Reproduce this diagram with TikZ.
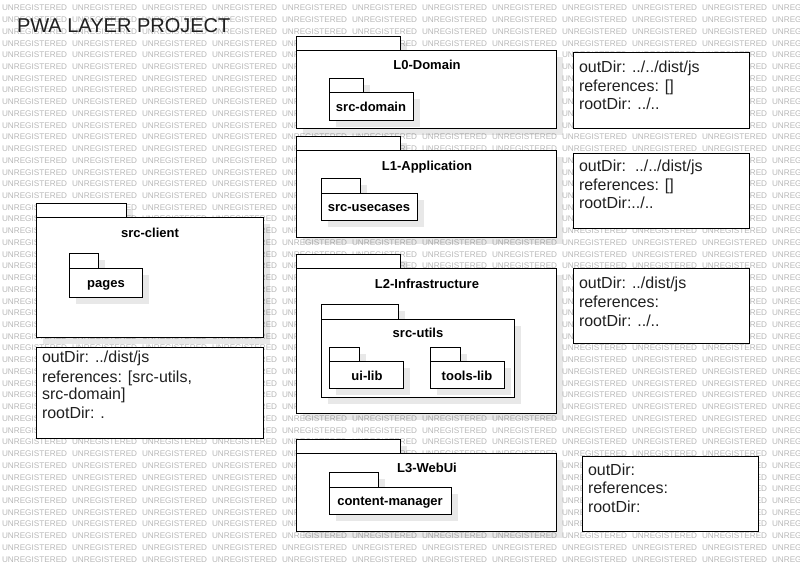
\documentclass[tikz,border=0pt]{standalone}
\usepackage{fontspec}
\setmainfont{Liberation Sans}
\usepackage{tikz}

\begin{document}
\begin{tikzpicture}[x=1pt,y=-1pt,line cap=rect,
    pkgbox/.style={line width=1.0pt, draw=custcol_0_0_0, fill=custcol_ff_ff_ff},
    pkgshadow/.style={fill=custcol_0_0_0, fill opacity=0.09},
    notebox/.style={line width=1.0pt, draw=custcol_0_0_0, fill=custcol_ff_ff_ff},
    pkgname/.style={inner sep=0, outer sep=0, custcol_0_0_0, anchor=base, font=\fontsize{13pt}{13pt}\bfseries\selectfont},
    noteline/.style={inner sep=0, outer sep=0, custcol_20_20_20, anchor=base west, font=\fontsize{16pt}{16pt}\selectfont},
    watermark/.style={inner sep=0, outer sep=0, custcol_b9_b9_b9, anchor=west, font=\fontsize{8.2pt}{8.2pt}\selectfont}]
					\definecolor{custcol_0_0_0}{RGB}{0, 0, 0}
					\definecolor{custcol_20_20_20}{RGB}{32, 32, 32}
					\definecolor{custcol_b9_b9_b9}{RGB}{185, 185, 185}
					\definecolor{custcol_ff_ff_ff}{RGB}{255, 255, 255}
					% package: left, tab top, tab right, body top, right, bottom
					\def\umlpkg#1#2#3#4#5#6{%
						\fill [pkgshadow]  (#1+7,#2+7) rectangle (#3+7,#4+7) ;
						\fill [pkgshadow]  (#1+7,#4+7) rectangle (#5+7,#6+7) ;
						\draw [pkgbox]  (#1,#2) rectangle (#3,#4) ;
						\draw [pkgbox]  (#1,#4) rectangle (#5,#6) ;}
					\useasboundingbox (0,0) rectangle (800,573);
					\fill [custcol_ff_ff_ff]  (0,0) rectangle (800,573) ;
					% watermark
					\begin{scope}
					\clip (0,0) rectangle (800,573);
					\foreach \row in {0,...,47}
						\foreach \col in {0,...,11}
							\node[watermark] (wm-\row-\col) at ({2+70*\col},{8+11.73*\row}) {UNREGISTERED};
					\end{scope}
					\node[inner sep=0, outer sep=0, custcol_20_20_20, anchor=base west, font=\fontsize{20pt}{20pt}\selectfont] (title) at (17,32) {PWA LAYER PROJECT};
					% L0
					\umlpkg{296}{36}{400}{50}{556}{128}
					\node[pkgname] (l0-domain) at (427,69) {L0-Domain};
					\umlpkg{329}{78}{363}{92}{413}{120}
					\node[pkgname] (src-domain) at (371,111.5) {src-domain};
					\draw [notebox]  (573,52) rectangle (749,128) ;
					\node[noteline] (l0-outdir) at (579,72) {outDir: ../../dist/js};
					\node[noteline] (l0-references) at (579,91) {references: []};
					\node[noteline] (l0-rootdir) at (579,109) {rootDir: ../..};
					% L1
					\umlpkg{296}{136}{400}{150}{556}{237}
					\node[pkgname] (l1-application) at (427,170) {L1-Application};
					\umlpkg{321}{178}{360}{193}{417}{220}
					\node[pkgname] (src-usecases) at (369,211.5) {src-usecases};
					\draw [notebox]  (573,153) rectangle (749,228) ;
					\node[noteline] (l1-outdir) at (579,171) {outDir:\ \ ../../dist/js};
					\node[noteline] (l1-references) at (579,190) {references: []};
					\node[noteline] (l1-rootdir) at (579,208) {rootDir:../..};
					% client
					\umlpkg{36}{203}{126}{217}{263}{337}
					\node[pkgname] (src-client) at (150,237.5) {src-client};
					\umlpkg{69}{253}{98}{268}{142}{297}
					\node[pkgname] (pages) at (106,287.5) {pages};
					\draw [notebox]  (36,347) rectangle (263,438) ;
					\node[noteline] (client-outdir) at (42,362) {outDir: ../dist/js};
					\node[noteline] (client-references) at (42,382) {references: [src-utils,};
					\node[noteline] (client-references2) at (42,399.5) {src-domain]};
					\node[noteline] (client-rootdir) at (42,418.5) {rootDir: .};
					% L2
					\umlpkg{296}{254}{400}{268}{556}{413}
					\node[pkgname] (l2-infrastructure) at (427,288) {L2-Infrastructure};
					\umlpkg{321}{304}{398}{319}{514}{397}
					\node[pkgname] (src-utils) at (418,337.5) {src-utils};
					\umlpkg{329}{347}{359}{361}{403}{388}
					\node[pkgname] (ui-lib) at (367,380.5) {ui-lib};
					\umlpkg{430}{347}{460}{361}{504}{388}
					\node[pkgname] (tools-lib) at (467,380.5) {tools-lib};
					\draw [notebox]  (573,268) rectangle (749,343) ;
					\node[noteline] (l2-outdir) at (579,288) {outDir: ../dist/js};
					\node[noteline] (l2-references) at (579,307) {references:};
					\node[noteline] (l2-rootdir) at (579,326) {rootDir: ../..};
					% L3
					\umlpkg{296}{439}{400}{453}{556}{531}
					\node[pkgname] (l3-webui) at (427,472.5) {L3-WebUi};
					\umlpkg{329}{472}{378}{487}{451}{514}
					\node[pkgname] (content-manager) at (390,505.5) {content-manager};
					\draw [notebox]  (582,456) rectangle (758,531) ;
					\node[noteline] (l3-outdir) at (588,475) {outDir:};
					\node[noteline] (l3-references) at (588,493) {references:};
					\node[noteline] (l3-rootdir) at (588,512) {rootDir:};
				\end{tikzpicture}
\end{document}
